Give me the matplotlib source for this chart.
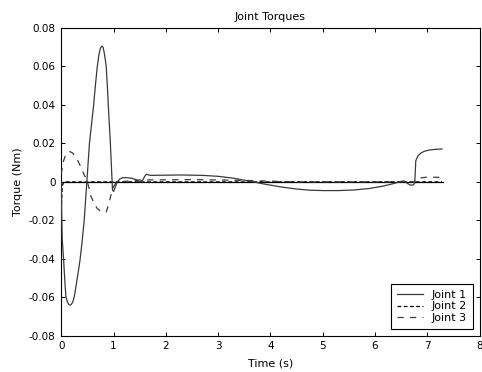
import matplotlib
matplotlib.use("Agg")
import matplotlib.pyplot as plt
import numpy as np

# ── Data ──────────────────────────────────────────────────────────────────────

t1 = [0.0, 0.01, 0.02, 0.045, 0.07, 0.09, 0.12, 0.15, 0.17, 0.19, 0.22, 0.25,
      0.29, 0.33, 0.36, 0.40, 0.44, 0.49, 0.54, 0.58, 0.62, 0.66, 0.69, 0.72,
      0.75, 0.78, 0.80, 0.83, 0.86, 0.88, 0.90, 0.92, 0.94, 0.96, 0.98, 1.00,
      1.03, 1.07, 1.12, 1.18, 1.25, 1.35, 1.45, 1.50, 1.56, 1.60, 1.63, 1.70,
      2.00, 2.30, 2.70, 3.00, 3.30, 3.60, 3.90, 4.20, 4.50, 4.75, 5.00, 5.30,
      5.60, 5.90, 6.15, 6.35, 6.50, 6.56, 6.62, 6.68, 6.73, 6.76, 6.78, 6.82,
      6.88, 6.95, 7.05, 7.15, 7.28]
joint1 = [0.0, -0.018, -0.030, -0.040, -0.052, -0.0596, -0.0625, -0.0638,
          -0.064, -0.0637, -0.0625, -0.0596, -0.053, -0.046, -0.0405, -0.031,
          -0.0197, 0.0, 0.020, 0.030, 0.040, 0.052, 0.060, 0.066, 0.0695,
          0.0705, 0.070, 0.066, 0.060, 0.051, 0.040, 0.030, 0.020, 0.008,
          -0.004, -0.005, -0.003, 0.0, 0.0015, 0.0022, 0.0022, 0.0019, 0.001,
          0.0, 0.001, 0.003, 0.004, 0.0034, 0.0035, 0.0036, 0.0034, 0.0029,
          0.0019, 0.0004, -0.0012, -0.0026, -0.0037, -0.0043, -0.0045,
          -0.0045, -0.0042, -0.0034, -0.0022, -0.0009, 0.0003, 0.0005,
          -0.0008, -0.0017, -0.0016, -0.0007, 0.0110, 0.0135, 0.0150, 0.0160,
          0.0166, 0.0169, 0.0171]

t2 = [0.0, 0.02, 0.05, 1.0, 3.6, 4.8, 6.5, 7.28]
joint2 = [-0.015, -0.002, 0.0, 0.0, 0.0, 0.0, 0.0, 0.0]

t3 = [0.0, 0.04, 0.09, 0.14, 0.17, 0.22, 0.31, 0.38, 0.44, 0.49, 0.53, 0.57,
      0.63, 0.68, 0.74, 0.81, 0.86, 0.90, 0.95, 1.00, 1.05, 1.10, 1.50, 2.50,
      3.50, 4.50, 5.50, 6.40, 6.75, 6.82, 6.97, 7.28]
joint3 = [0.004, 0.0105, 0.0145, 0.0157, 0.0157, 0.015, 0.0114, 0.0075,
          0.0036, 0.001, -0.003, -0.0076, -0.011, -0.0135, -0.015, -0.016,
          -0.0156, -0.0125, -0.007, -0.0024, -0.0005, 0.0, 0.001, 0.0012,
          0.0008, 0.0, 0.0, 0.0, 0.0, 0.0019, 0.0024, 0.0024]

t_end = 7.3

# ── Plot ──────────────────────────────────────────────────────────────────────

plt.rcParams["font.family"] = ["DejaVu Sans"]
plt.rcParams["font.size"] = 8

fig = plt.figure(figsize=(4.82, 3.72), dpi=100)
ax = fig.add_axes([0.127, 0.097, 0.868, 0.828])

line_col = "#3a3a3a"
ax.plot(t2, joint2, color="black", lw=0.9, ls=(0, (3, 2)), label="Joint 2",
        zorder=2)
ax.plot([0, t_end], [0, 0], color="black", lw=0.9, zorder=3)
ax.plot(t1, joint1, color=line_col, lw=0.9, ls="-", label="Joint 1",
        zorder=4)
ax.plot(t3, joint3, color=line_col, lw=0.9, ls=(0, (5, 5)), label="Joint 3",
        zorder=4)

ax.set_xlim(0, 8)
ax.set_ylim(-0.08, 0.08)
ax.set_xticks(range(0, 9))
ax.set_yticks(np.arange(-0.08, 0.081, 0.02))
ax.set_yticklabels(["-0.08", "-0.06", "-0.04", "-0.02", "0",
                    "0.02", "0.04", "0.06", "0.08"])
ax.tick_params(direction="in", top=True, right=True, length=3, width=0.7,
               labelsize=7.5, pad=4)
for s in ax.spines.values():
    s.set_linewidth(0.8)

ax.set_title("Joint Torques", fontsize=8, pad=6)
ax.set_xlabel("Time (s)", labelpad=5)
ax.set_ylabel("Torque (Nm)", labelpad=4)

handles, labels = ax.get_legend_handles_labels()
order = [labels.index(n) for n in ("Joint 1", "Joint 2", "Joint 3")]
leg = ax.legend([handles[i] for i in order], [labels[i] for i in order],
                loc="lower right", fancybox=False, framealpha=1,
                edgecolor="black", fontsize=8, handlelength=2.3,
                handletextpad=0.8, borderpad=0.55, borderaxespad=0.6,
                labelspacing=0.15)
leg.get_frame().set_linewidth(0.8)

fig.savefig("out.png", dpi=100)
